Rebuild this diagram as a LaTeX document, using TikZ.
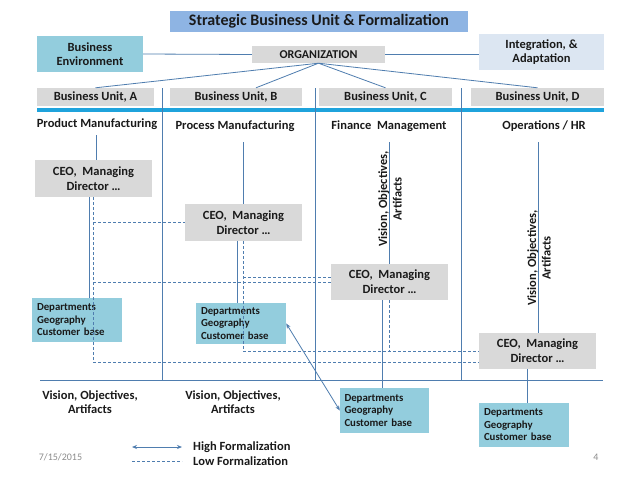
\documentclass[tikz,border=0pt]{standalone}
\usepackage{fontspec}
\setmainfont{Carlito}
\usepackage{xcolor}
\usetikzlibrary{arrows.meta, calc}
\definecolor{lineBlue}{HTML}{4F7DAF}
\definecolor{barBlue}{HTML}{1FA3DC}
\definecolor{boxGrey}{HTML}{D9D9D9}
\definecolor{boxTeal}{HTML}{93CDDD}
\definecolor{titleBlue}{HTML}{8EB4E3}
\definecolor{paleBlue}{HTML}{DCE6F2}
\definecolor{dateGrey}{HTML}{8C8C8C}
\definecolor{inkBlack}{HTML}{1A1A1A}

\begin{document}
\begin{tikzpicture}[x=1pt, y=-1pt,
  every node/.style={font=\bfseries\fontsize{12.5}{14.5}\selectfont, text=inkBlack, inner sep=0pt, align=center},
  unitbox/.style={fill=boxGrey, minimum height=18pt, minimum width=133pt},
  ceobox/.style={fill=boxGrey, minimum height=37pt, minimum width=117pt,
    font=\bfseries\fontsize{12.5}{15}\selectfont},
  sidebox/.style={minimum height=36pt, minimum width=106pt},
  deptbox/.style={
    fill=boxTeal, align=left, minimum width=90pt, minimum height=44pt,
    text width=80pt, font=\bfseries\fontsize{10.8}{12.5}\selectfont
  },
  link/.style={draw=lineBlue, line width=0.8pt},
  low/.style={draw=lineBlue, line width=0.7pt, dash pattern=on 3pt off 2pt},
  high/.style={draw=lineBlue, line width=0.8pt,
    {Stealth[length=5pt, width=4pt]}-{Stealth[length=5pt, width=4pt]}},
  bar/.style={draw=barBlue, line width=4pt},
  footer/.style={font=\fontsize{10}{12}\selectfont, text=dateGrey}
]
\fill[white] (0,0) rectangle (638,479);
\useasboundingbox (0,0) rectangle (638,479);

% top row
\node[fill=titleBlue, minimum width=298pt, minimum height=21pt,
  font=\bfseries\fontsize{16}{18}\selectfont] (title) at (319,21.5)
  {Strategic Business Unit \& Formalization};
\node[sidebox, fill=boxTeal] (benv) at (90,54) {Business\\Environment};
\node[fill=boxGrey, minimum width=133pt, minimum height=17pt,
  font=\bfseries\fontsize{12}{14}\selectfont] (org) at (318.5,54.5) {ORGANIZATION};
\node[sidebox, fill=paleBlue, minimum width=125pt] (integ) at (541.5,52) {Integration, \&\\Adaptation};

% business units
\node[unitbox, minimum width=117pt] (bua) at (95.5,97) {Business Unit, A};
\node[unitbox, minimum width=132pt] (bub) at (236,97) {Business Unit, B};
\node[unitbox] (buc) at (385.5,97) {Business Unit, C};
\node[unitbox] (bud) at (537.5,97) {Business Unit, D};

\draw[bar] (37,109.5) -- (604,109.5);
\foreach \xd in {162,315,461}
  \draw[link] (\xd,88) -- (\xd,380);
\draw[link] (40,380) -- (603,380);

\node (hda) at (97,124) {Product Manufacturing};
\node (hdb) at (235,126) {Process Manufacturing};
\node (hdc) at (389,126) {Finance\ \ Management};
\node (hdd) at (544,126) {Operations / HR};

% managers
\node[ceobox] (ceoa) at (93.5,178.5) {CEO,\ \ Managing\\Director …};
\node[ceobox] (ceob) at (243.5,222.5) {CEO,\ \ Managing\\Director …};
\node[ceobox, minimum height=36pt] (ceoc) at (389.5,282) {CEO,\ \ Managing\\Director …};
\node[ceobox, minimum height=36pt] (ceod) at (537.5,351) {CEO,\ \ Managing\\Director …};

% departments
\node[deptbox] (depa) at (77,320) {Departments\\Geography\\Customer base};
\node[deptbox, minimum height=41pt] (depb) at (241,323.5) {Departments\\Geography\\Customer base};
\node[deptbox, minimum width=89pt, minimum height=45pt] (depc) at (384.5,410.5) {Departments\\Geography\\Customer base};
\node[deptbox] (depd) at (524,425) {Departments\\Geography\\Customer base};

% stems
\coordinate (ta) at (96,135);
\coordinate (tb) at (243,142);
\coordinate (tc) at (389,142);
\coordinate (td) at (538,142);
\coordinate (sa) at (89,0);
\coordinate (sb) at (237,0);
\coordinate (sc) at (382,0);
\coordinate (sd) at (527,0);
\coordinate (da) at (93,0);
\coordinate (db) at (243,0);
\coordinate (dc) at (389,0);
\coordinate (lowa) at (93,362);
\coordinate (lowb) at (243,351);
\coordinate (lowc) at (243,277);

% organization links
\draw[link] (benv.east) -- (org.west);
\draw[link] (org.east) -- (integ.west |- org.east);
\draw[link] (org.south) -- (bua.north);
\draw[link] (org.south) -- ([xshift=20pt]bub.north);
\draw[link] (org.south) -- (buc.north);
\draw[link] (org.south) -- (bud.north);

% high formalization
\draw[link] (ta) -- (ta |- ceoa.north);
\draw[link] (tb) -- (tb |- ceob.north);
\draw[link] (tc) -- (tc |- ceoc.north);
\draw[link] (td) -- (td |- ceod.north);
\draw[link] (ceoa.south -| sa) -- (depa.north -| sa);
\draw[link] (ceob.south -| sb) -- (depb.north -| sb);
\draw[link] (ceoc.south -| sc) -- (depc.north -| sc);
\draw[link] (ceod.south -| sd) -- (depd.north -| sd);
\draw[high] (depb.east) -- (depc.west);

% low formalization
\draw[low] (ceoa.south -| da) -- (lowa) -- (lowa -| ceod.west);
\draw[low] (da |- ceob.west) -- (ceob.west);
\draw[low] (da |- ceoc.west) -- (ceoc.west);
\draw[low] (ceob.south -| db) -- (lowb) -- (lowb -| ceod.west);
\draw[low] (lowc) -- (lowc -| ceoc.west);
\draw[low] (ceoc.south -| dc) -- (lowb -| dc);

% side labels
\node[rotate=90] (visc) at (390,199) {Vision, Objectives,\\Artifacts};
\node[rotate=90] (visd) at (539,258) {Vision, Objectives,\\Artifacts};
\node (visa) at (90,402) {Vision, Objectives,\\Artifacts};
\node (visb) at (233,402) {Vision, Objectives,\\Artifacts};

% legend
\node[anchor=west] (leghigh) at (193,447) {High Formalization};
\node[anchor=west] (leglow) at (193,461) {Low Formalization};
\coordinate (legha) at (132,447);
\coordinate (leghb) at (182,447);
\draw[high] (legha) -- (leghb);
\draw[low] (legha |- leglow.west) -- (leghb |- leglow.west);

\node[footer] (date) at (60.5,457) {7/15/2015};
\node[footer] (page) at (596,457) {4};
\end{tikzpicture}
\end{document}
